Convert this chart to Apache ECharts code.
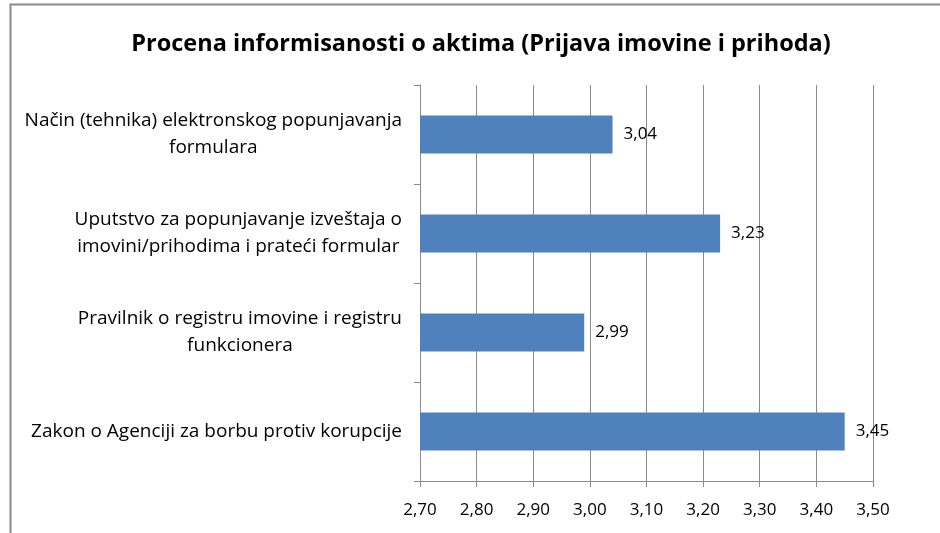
<!DOCTYPE html>
<html><head><meta charset="utf-8">
<script src="https://cdn.jsdelivr.net/npm/echarts@6/dist/echarts.min.js"></script>
<style>html,body{margin:0;padding:0;background:#fff}#c{width:940px;height:533px}</style>
</head><body><div id="c"></div>
<script>
const title = 'Procena informisanosti o aktima (Prijava imovine i prihoda)';
const categories = [
  'Način (tehnika) elektronskog popunjavanja\nformulara',
  'Uputstvo za popunjavanje izveštaja o\nimovini/prihodima i prateći formular',
  'Pravilnik o registru imovine i registru\nfunkcionera',
  'Zakon o Agenciji za borbu protiv korupcije'
];
const values = [3.04, 3.23, 2.99, 3.45];
const axisMin = 2.7, axisMax = 3.5, axisStep = 0.1;

const FONT = 'Open Sans';
const fmt = v => Number(v).toFixed(2).replace('.', ',');
const chart = echarts.init(document.getElementById('c'));
chart.setOption({
  animation: false,
  backgroundColor: '#fff',
  graphic: [{type: 'rect', left: 8, top: 2, shape: {width: 1000, height: 1000},
    style: {fill: 'none', stroke: '#8a8a8a', lineWidth: 2}, silent: true, z: -1}],
  title: {text: title, left: 476, textAlign: 'center', top: 27,
    textStyle: {fontFamily: FONT, fontWeight: 'bold', fontSize: 23.5, color: '#000'}},
  grid: {left: 420, right: 67, top: 85, bottom: 52, containLabel: false},
  xAxis: {type: 'value', min: axisMin, max: axisMax, interval: axisStep,
    axisLine: {show: true, lineStyle: {color: '#8a8a8a'}},
    axisTick: {show: true, length: 6, lineStyle: {color: '#8a8a8a'}},
    splitLine: {show: true, lineStyle: {color: '#8a8a8a'}},
    axisLabel: {formatter: v => fmt(v), fontFamily: FONT, fontSize: 17, color: '#000', margin: 21}},
  yAxis: {type: 'category', data: categories, inverse: true,
    axisLine: {show: true, lineStyle: {color: '#8a8a8a'}},
    axisTick: {show: true, length: 6, lineStyle: {color: '#8a8a8a'}},
    axisLabel: {margin: 18, fontFamily: FONT, fontSize: 19, color: '#000',
      formatter: v => v.split('\n').map(l => '{c|' + l + '}').join('\n'),
      rich: {c: {align: 'center', fontFamily: FONT, fontSize: 19, color: '#000', lineHeight: 27}}}},
  series: [{type: 'bar', data: values, barWidth: 38,
    itemStyle: {color: '#4F81BD'},
    label: {show: true, position: 'right', distance: 11, formatter: p => fmt(p.value),
      fontFamily: FONT, fontSize: 17, color: '#000'}}]
});
</script></body></html>
